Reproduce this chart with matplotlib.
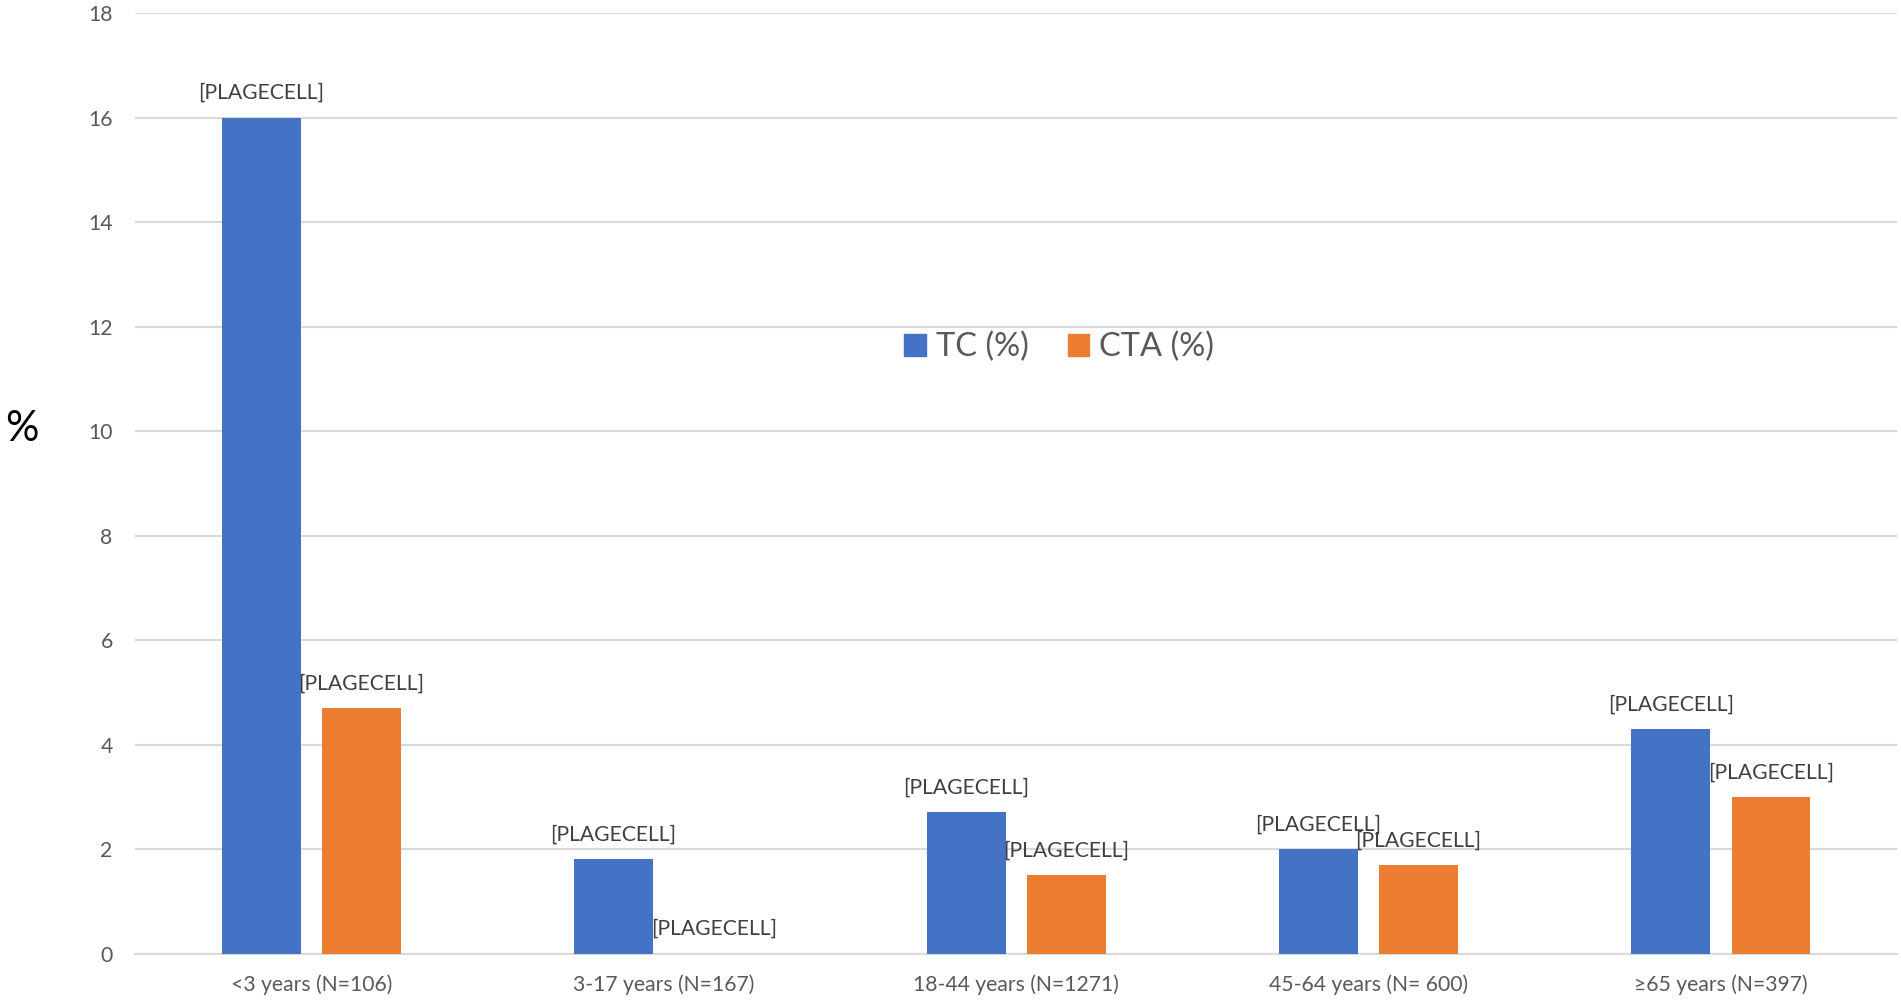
import matplotlib
matplotlib.use("Agg")
import matplotlib.pyplot as plt
import numpy as np
from matplotlib.patches import Patch

categories = ["<3 years (N=106)", "3-17 years (N=167)", "18-44 years (N=1271)",
              "45-64 years (N= 600)", "\u226565 years (N=397)"]
tc_values = [16, 1.8, 2.7, 2.0, 4.3]
cta_values = [4.7, 0, 1.5, 1.7, 3.0]
series_names = ["TC (%)", "CTA (%)"]
label_text = "[PLAGECELL]"
yticks = [0, 2, 4, 6, 8, 10, 12, 14, 16, 18]

plt.rcParams['font.family'] = ['Lato', 'DejaVu Sans']

BLUE = "#4472C4"
ORANGE = "#ED7D31"
GREY = "#595959"
GRID = "#D9D9D9"

fig = plt.figure(figsize=(19.01, 10.02), dpi=100)
ax = fig.add_axes([0.0710, 0.0484, 0.9270, 0.9386])

x = np.arange(len(categories))
w = 0.224
off = 0.142
b1 = ax.bar(x - off, tc_values, w, color=BLUE, zorder=3)
b2 = ax.bar(x + off, cta_values, w, color=ORANGE, zorder=3)

for bars in (b1, b2):
    for rect in bars:
        ax.annotate(label_text, (rect.get_x() + rect.get_width() / 2, rect.get_height()),
                    xytext=(0, 17.6), textcoords="offset points", ha="center", va="center",
                    fontsize=15.2, color="#404040", zorder=5)

ax.set_xlim(-0.5, len(categories) - 0.5)
ax.set_ylim(0, 18)
ax.set_yticks(yticks)
ax.set_xticks(x)
ax.set_xticklabels(categories)
ax.yaxis.grid(True, color=GRID, linewidth=1.5, zorder=0)
ax.set_axisbelow(True)
for s in ["top", "right", "left"]:
    ax.spines[s].set_visible(False)
ax.spines["bottom"].set_color(GRID)
ax.spines["bottom"].set_linewidth(1.5)
ax.tick_params(axis="both", length=0, labelsize=15.2, labelcolor=GREY)
ax.tick_params(axis="y", pad=16)
ax.tick_params(axis="x", pad=15)

fig.text(22 / 1901, 1 - 429 / 1002, "%", fontsize=30, color="black", ha="center", va="center")

handles = [Patch(color=BLUE, label=series_names[0]), Patch(color=ORANGE, label=series_names[1])]
ax.legend(handles=handles, loc="center", bbox_to_anchor=(0.5245, 0.645), ncol=2, frameon=False,
          fontsize=23.5, labelcolor=GREY, handlelength=0.66, handleheight=0.66,
          handletextpad=0.3, columnspacing=1.2)

fig.savefig("out.png", dpi=100)
